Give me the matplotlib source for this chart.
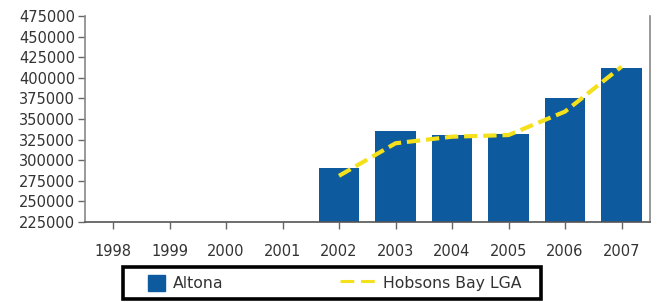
import matplotlib.pyplot as plt
import numpy as np
from matplotlib.lines import Line2D
from matplotlib.patches import Patch, Rectangle
from matplotlib.legend_handler import HandlerPatch

plt.rcParams['font.family'] = ['DejaVu Sans']

years = ['1998', '1999', '2000', '2001', '2002', '2003', '2004', '2005', '2006', '2007']
# Altona median price (bars), missing before 2002
altona = [np.nan, np.nan, np.nan, np.nan, 290000, 335500, 330000, 332000, 376000, 411500]
# Hobsons Bay LGA (dashed line)
hobsons = [np.nan, np.nan, np.nan, np.nan, 281000, 320500, 328500, 330500, 359000, 413500]

bar_color = '#0E5A9F'
line_color = '#F5E11B'

fig = plt.figure(figsize=(6.57, 3.02), dpi=100)
ax = fig.add_axes([0.129, 0.265, 0.86, 0.682])

x = np.arange(len(years))
ax.bar(x, np.nan_to_num(altona, nan=0), width=0.71, color=bar_color, zorder=2)
ax.plot(x, hobsons, color=line_color, lw=3, ls=(0, (3.2, 1.4)), zorder=3)

ax.set_xlim(-0.5, len(years) - 0.5)
ax.set_ylim(225000, 475000)
ax.set_yticks(np.arange(225000, 475001, 25000))
ax.set_xticks(x)
ax.set_xticklabels(years)

ax.tick_params(axis='both', labelsize=10.5, labelcolor='#333333', color='#666666',
               length=5, width=1, pad=2)
ax.tick_params(axis='x', pad=11)
ax.spines['top'].set_visible(False)
for s in ['left', 'right', 'bottom']:
    ax.spines[s].set_color('#888888')
    ax.spines[s].set_linewidth(1.2)
ax.spines['bottom'].set_color('#555555')


# square swatch sitting at the right end of the handle box
def square(legend, orig_handle, xdescent, ydescent, width, height, fontsize):
    return Rectangle((-xdescent + width - height, -ydescent), height, height)


handles = [Patch(facecolor=bar_color, edgecolor=bar_color),
           Line2D([0], [0], color=line_color, lw=2.2, ls=(0, (4.5, 2.2)))]
leg = fig.legend(handles, ['Altona', 'Hobsons Bay LGA'], ncol=2,
                 loc='center left', bbox_to_anchor=(131 / 657, 1 - 283 / 302),
                 fontsize=11.3, frameon=False, borderpad=0, borderaxespad=0,
                 handlelength=2.17, handleheight=1.27, handletextpad=0.51,
                 columnspacing=7.45,
                 handler_map={Patch: HandlerPatch(patch_func=square)})
for t in leg.get_texts():
    t.set_color('#333333')

fig.patches.append(Rectangle((123 / 657, 1 - 299 / 302), 418 / 657, 32 / 302,
                             transform=fig.transFigure, fill=False,
                             edgecolor='black', lw=2.6))

fig.savefig('out.png', dpi=100)
